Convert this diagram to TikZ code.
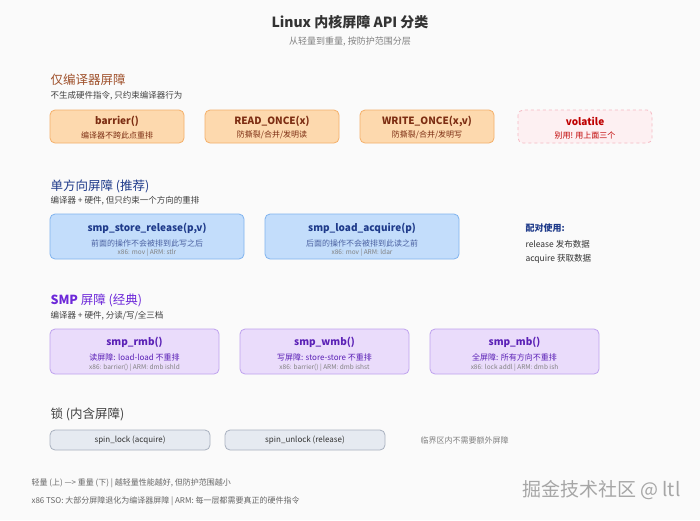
\documentclass[tikz,border=0pt]{standalone}
\usepackage{fontspec}
\setmainfont{Noto Sans CJK SC}
\begin{document}
\begin{tikzpicture}[x=1pt,y=-1pt,
  box/.style={rounded corners=5pt,line width=0.8pt},
  ob/.style={box,fill=ofill,draw=oline},
  vb/.style={box,fill=vfill,draw=vline,dashed},
  bb/.style={box,fill=bfill,draw=bline},
  pb/.style={box,fill=pfill,draw=pline},
  gb/.style={box,fill=gfill,draw=gline},
  t/.style={font=\fontsize{10}{12}\selectfont\bfseries},
  s/.style={font=\fontsize{8}{10}\selectfont},
  xs/.style={font=\fontsize{6.5}{8}\selectfont,text=gray},
  hd/.style={anchor=west,font=\fontsize{12.5}{14}\selectfont},
  sb/.style={anchor=west,font=\fontsize{8.5}{10}\selectfont,text=black!75}]
\definecolor{brn}{HTML}{A0522D}\definecolor{dbl}{HTML}{1E3A8A}\definecolor{pur}{HTML}{6D28D9}
\definecolor{ot}{HTML}{7C2D12}\definecolor{bt}{HTML}{1E3A8A}\definecolor{pt}{HTML}{5B21B6}
\definecolor{ofill}{HTML}{FDD9AE}\definecolor{oline}{HTML}{F4B06A}
\definecolor{vfill}{HTML}{FDF0F2}\definecolor{vline}{HTML}{F5B8C2}
\definecolor{bfill}{HTML}{C3DDFB}\definecolor{bline}{HTML}{7FB3EE}
\definecolor{pfill}{HTML}{EADCFB}\definecolor{pline}{HTML}{BFA2EE}
\definecolor{gfill}{HTML}{E6EAF1}\definecolor{gline}{HTML}{A9B1BF}
\fill[gray!4] (0,0) rectangle (700,520);
\useasboundingbox (0,0) rectangle (700,520);
\node[font=\fontsize{14}{16}\selectfont\bfseries,text=black!80] (title) at (350,22) {Linux 内核屏障 API 分类};
\node[font=\fontsize{9}{11}\selectfont,text=gray] (subt) at (350,42) {从轻量到重量, 按防护范围分层};
% section 1
\node[hd,text=brn] (h1) at (47,80) {仅编译器屏障};
\node[sb] (s1) at (47,96) {不生成硬件指令, 只约束编译器行为};
\draw[ob] (50,110) rectangle (184,143);
\node[t,text=ot] (b1) at (117,121) {barrier()};
\node[s,text=ot] (b1s) at (117,135) {编译器不跨此点重排};
\draw[ob] (205,110) rectangle (339,143);
\node[t,text=ot] (b2) at (272,121) {READ\_ONCE(x)};
\node[s,text=ot] (b2s) at (272,135) {防撕裂/合并/发明读};
\draw[ob] (360,110) rectangle (494,143);
\node[t,text=ot] (b3) at (427,121) {WRITE\_ONCE(x,v)};
\node[s,text=ot] (b3s) at (427,135) {防撕裂/合并/发明写};
\draw[vb] (518,110) rectangle (652,143);
\node[t,text=red!75!black] (b4) at (585,121) {volatile};
\node[s,text=red!75!black] (b4s) at (585,135) {别用! 用上面三个};
% section 2
\node[hd,text=dbl] (h2) at (47,186) {单方向屏障 (推荐)};
\node[sb] (s2) at (47,201) {编译器 + 硬件, 但只约束一个方向的重排};
\draw[bb] (50,214) rectangle (244,259);
\node[t,text=bt] (c1) at (147,228) {smp\_store\_release(p,v)};
\node[s,text=bt!80] (c1s) at (147,243) {前面的操作不会被排到此写之后};
\node[xs] (c1x) at (147,253) {x86: mov | ARM: stlr};
\draw[bb] (265,214) rectangle (459,259);
\node[t,text=bt] (c2) at (362,228) {smp\_load\_acquire(p)};
\node[s,text=bt!80] (c2s) at (362,243) {后面的操作不会被排到此读之前};
\node[xs] (c2x) at (362,253) {x86: mov | ARM: ldar};
\node[anchor=west,font=\fontsize{9}{11}\selectfont\bfseries,text=dbl] (p1) at (522,228) {配对使用:};
\node[anchor=west,font=\fontsize{8.5}{10}\selectfont,text=black!80] (p2) at (522,244) {release 发布数据};
\node[anchor=west,font=\fontsize{8.5}{10}\selectfont,text=black!80] (p3) at (522,259) {acquire 获取数据};
% section 3
\node[hd,text=pur] (h3) at (47,300) {\textbf{SMP} 屏障 (经典)};
\node[sb] (s3) at (47,316) {编译器 + 硬件, 分读/写/全三档};
\draw[pb] (50,329) rectangle (219,374);
\node[t,text=pt] (d1) at (134.5,342) {smp\_rmb()};
\node[s,text=pt] (d1s) at (134.5,357) {读屏障: load-load 不重排};
\node[xs] (d1x) at (134.5,368) {x86: barrier() | ARM: dmb ishld};
\draw[pb] (240,329) rectangle (409,374);
\node[t,text=pt] (d2) at (324.5,342) {smp\_wmb()};
\node[s,text=pt] (d2s) at (324.5,357) {写屏障: store-store 不重排};
\node[xs] (d2x) at (324.5,368) {x86: barrier() | ARM: dmb ishst};
\draw[pb] (430,329) rectangle (599,374);
\node[t,text=pt] (d3) at (514.5,342) {smp\_mb()};
\node[s,text=pt] (d3s) at (514.5,357) {全屏障: 所有方向不重排};
\node[xs] (d3x) at (514.5,368) {x86: lock addl | ARM: dmb ish};
% section 4
\node[hd,text=black!75] (h4) at (47,414) {锁 (内含屏障)};
\draw[gb] (50,430) rectangle (210,450);
\node[s,text=black!80] (e1) at (130,440) {spin\_lock (acquire)};
\draw[gb] (225,430) rectangle (385,450);
\node[s,text=black!80] (e2) at (305,440) {spin\_unlock (release)};
\node[anchor=west,s,text=gray] (e3) at (417,440) {临界区内不需要额外屏障};
% footer
\node[anchor=west,s,text=black!60] (f1) at (28,483) {轻量 (上) ---> 重量 (下) | 越轻量性能越好, 但防护范围越小};
\node[anchor=west,s,text=black!60] (f2) at (28,501) {x86 TSO: 大部分屏障退化为编译器屏障 | ARM: 每一层都需要真正的硬件指令};
\node[anchor=east,font=\fontsize{19}{21}\selectfont,text=gray!70] (wm) at (684,490) {掘金技术社区 @ ltl};
\end{tikzpicture}
\end{document}
